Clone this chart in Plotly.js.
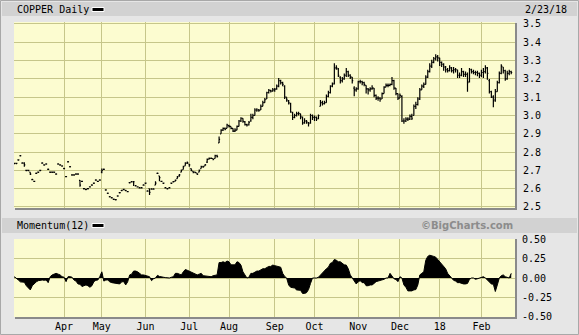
<!DOCTYPE html>
<html><head><meta charset="utf-8">
<script src="https://cdn.plot.ly/plotly-3.0.1.min.js"></script>
<style>html,body{margin:0;padding:0;background:#e6e6e6}#chart{width:579px;height:335px}</style>
</head><body><div id="chart"></div>
<script>
// ---- trading calendar (Feb 27 2017 .. Feb 23 2018) ----
const startDate = '2017-02-27';
const endDate = '2018-02-23';
const holidays = ['2017-04-14','2017-05-29','2017-07-04','2017-09-04','2017-11-23','2017-12-25','2018-01-01','2018-01-15','2018-02-19'];
const monthKeys = ['2017-04','2017-05','2017-06','2017-07','2017-08','2017-09','2017-10','2017-11','2017-12','2018-01','2018-02'];
const monthLabels = ['Apr','May','Jun','Jul','Aug','Sep','Oct','Nov','Dec','18','Feb'];
const priceTicks = [2.5,2.6,2.7,2.8,2.9,3.0,3.1,3.2,3.3,3.4,3.5];
const priceTickText = ['2.5','2.6','2.7','2.8','2.9','3.0','3.1','3.2','3.3','3.4','3.5'];
const momTicks = [-0.5,-0.25,0,0.25,0.5];
const momTickText = ['-0.50','-0.25','0.00','0.25','0.50'];

// ---- COPPER daily OHLC ----
const open = [
2.738,2.738,2.757,2.78,2.74,2.74,2.70,2.70,2.69,2.65,
2.64,2.684,2.69,2.70,2.74,2.73,2.735,2.706,2.69,2.69,
2.69,2.68,2.735,2.73,2.724,2.71,2.666,2.747,2.72,2.675,
2.675,2.68,2.68,2.645,2.64,2.60,2.596,2.60,2.61,2.62,
2.63,2.647,2.64,2.647,2.69,2.706,2.593,2.575,2.556,2.55,
2.542,2.54,2.56,2.578,2.59,2.596,2.59,2.584,2.633,2.638,
2.638,2.616,2.61,2.605,2.605,2.62,2.63,2.587,2.60,2.598,
2.598,2.62,2.684,2.67,2.64,2.63,2.605,2.60,2.605,2.63,
2.638,2.64,2.655,2.67,2.69,2.705,2.725,2.74,2.735,2.71,
2.695,2.69,2.685,2.69,2.71,2.72,2.725,2.745,2.762,2.766,
2.765,2.765,2.78,2.85,2.90,2.92,2.93,2.93,2.945,2.94,
2.93,2.915,2.92,2.94,2.97,2.985,2.965,2.95,2.948,2.97,
2.99,3.0,3.03,3.03,3.03,3.05,3.07,3.09,3.125,3.137,
3.133,3.14,3.145,3.16,3.19,3.18,3.16,3.10,3.08,3.065,
3.015,2.99,3.0,3.01,3.01,2.99,2.96,2.97,2.96,2.96,
3.0,2.99,2.99,2.985,3.05,3.07,3.065,3.07,3.105,3.125,
3.16,3.175,3.26,3.255,3.21,3.19,3.2,3.22,3.24,3.22,
3.21,3.15,3.14,3.145,3.185,3.185,3.18,3.165,3.145,3.14,
3.145,3.15,3.11,3.095,3.095,3.09,3.12,3.155,3.165,3.165,
3.17,3.19,3.15,3.12,3.095,3.105,2.97,2.97,2.98,2.98,
2.995,3.0,3.05,3.06,3.09,3.14,3.16,3.17,3.21,3.24,
3.27,3.29,3.31,3.32,3.315,3.29,3.28,3.265,3.25,3.245,
3.26,3.245,3.25,3.25,3.22,3.22,3.24,3.225,3.225,3.185,
3.25,3.24,3.235,3.235,3.23,3.22,3.235,3.24,3.26,3.19,
3.13,3.1,3.085,3.13,3.18,3.23,3.265,3.245,3.2,3.23,
3.24];
const high = [
2.742,2.742,2.761,2.784,2.744,2.745,2.704,2.704,2.69,2.654,
2.644,2.688,2.694,2.704,2.744,2.734,2.739,2.71,2.694,2.694,
2.694,2.684,2.739,2.734,2.728,2.714,2.67,2.751,2.724,2.679,
2.679,2.684,2.684,2.647,2.644,2.604,2.60,2.604,2.614,2.624,
2.634,2.651,2.644,2.651,2.71,2.71,2.597,2.579,2.56,2.554,
2.546,2.544,2.564,2.582,2.594,2.60,2.594,2.588,2.637,2.642,
2.642,2.62,2.614,2.609,2.609,2.624,2.634,2.591,2.60,2.602,
2.602,2.64,2.688,2.67,2.644,2.634,2.609,2.604,2.609,2.634,
2.642,2.65,2.67,2.68,2.705,2.725,2.745,2.748,2.735,2.71,
2.695,2.692,2.685,2.705,2.725,2.725,2.735,2.765,2.77,2.77,
2.765,2.785,2.785,2.885,2.925,2.935,2.935,2.955,2.95,2.94,
2.93,2.93,2.945,2.975,2.99,2.985,2.97,2.955,2.97,3.01,
3.01,3.04,3.04,3.035,3.06,3.08,3.095,3.13,3.145,3.14,
3.15,3.15,3.17,3.205,3.195,3.185,3.165,3.10,3.085,3.07,
3.02,3.01,3.02,3.02,3.01,2.995,2.985,2.975,2.965,3.01,
3.005,3.0,2.995,3.005,3.085,3.08,3.08,3.115,3.135,3.165,
3.18,3.285,3.275,3.26,3.215,3.21,3.23,3.26,3.245,3.225,
3.21,3.16,3.155,3.19,3.195,3.19,3.185,3.165,3.15,3.155,
3.165,3.15,3.115,3.105,3.10,3.125,3.16,3.175,3.175,3.175,
3.21,3.195,3.15,3.12,3.12,3.11,2.985,2.99,2.99,3.005,
3.01,3.06,3.075,3.10,3.15,3.17,3.18,3.22,3.25,3.285,
3.305,3.32,3.335,3.33,3.315,3.295,3.285,3.27,3.26,3.275,
3.265,3.265,3.26,3.25,3.235,3.26,3.245,3.24,3.235,3.26,
3.255,3.25,3.245,3.245,3.235,3.25,3.26,3.275,3.265,3.2,
3.135,3.11,3.145,3.19,3.24,3.28,3.265,3.25,3.245,3.25,
3.245];
const low = [
2.734,2.734,2.753,2.776,2.736,2.72,2.696,2.696,2.675,2.646,
2.636,2.68,2.686,2.696,2.736,2.726,2.731,2.702,2.686,2.686,
2.686,2.676,2.731,2.726,2.72,2.706,2.662,2.743,2.716,2.671,
2.671,2.676,2.676,2.61,2.636,2.596,2.592,2.596,2.606,2.616,
2.626,2.643,2.636,2.643,2.685,2.702,2.589,2.571,2.552,2.546,
2.538,2.536,2.556,2.574,2.586,2.592,2.586,2.58,2.629,2.634,
2.615,2.612,2.606,2.601,2.601,2.616,2.626,2.583,2.565,2.594,
2.594,2.62,2.68,2.64,2.636,2.626,2.601,2.596,2.601,2.626,
2.634,2.64,2.655,2.665,2.69,2.705,2.725,2.735,2.72,2.695,
2.685,2.684,2.675,2.69,2.71,2.715,2.725,2.74,2.76,2.762,
2.755,2.765,2.77,2.85,2.90,2.915,2.92,2.93,2.935,2.925,
2.91,2.91,2.92,2.94,2.965,2.96,2.945,2.94,2.945,2.966,
2.98,3.0,3.02,3.02,3.03,3.05,3.07,3.09,3.12,3.125,
3.13,3.13,3.14,3.155,3.17,3.16,3.09,3.075,3.06,3.015,
2.975,2.985,2.995,3.0,2.98,2.95,2.955,2.955,2.94,2.955,
2.975,2.97,2.97,2.98,3.05,3.055,3.06,3.07,3.10,3.12,
3.155,3.17,3.25,3.21,3.175,3.18,3.195,3.21,3.21,3.20,
3.175,3.105,3.13,3.14,3.175,3.165,3.16,3.12,3.115,3.13,
3.14,3.10,3.085,3.08,3.075,3.09,3.12,3.155,3.155,3.16,
3.165,3.14,3.11,3.085,3.095,2.965,2.955,2.965,2.97,2.975,
2.975,3.0,3.035,3.055,3.085,3.14,3.15,3.17,3.205,3.235,
3.26,3.285,3.30,3.295,3.27,3.265,3.245,3.235,3.235,3.24,
3.235,3.23,3.235,3.205,3.205,3.215,3.21,3.21,3.13,3.18,
3.23,3.225,3.22,3.215,3.205,3.21,3.205,3.23,3.195,3.12,
3.095,3.045,3.075,3.13,3.175,3.225,3.23,3.19,3.195,3.22,
3.225];
const close = [
2.738,2.738,2.757,2.78,2.74,2.73,2.70,2.70,2.68,2.65,
2.64,2.684,2.69,2.70,2.74,2.73,2.735,2.706,2.69,2.69,
2.69,2.68,2.735,2.73,2.724,2.71,2.666,2.747,2.72,2.675,
2.675,2.68,2.68,2.62,2.64,2.60,2.596,2.60,2.61,2.62,
2.63,2.647,2.64,2.647,2.70,2.706,2.593,2.575,2.556,2.55,
2.542,2.54,2.56,2.578,2.59,2.596,2.59,2.584,2.633,2.638,
2.638,2.616,2.61,2.605,2.605,2.62,2.63,2.587,2.58,2.598,
2.598,2.63,2.684,2.66,2.64,2.63,2.605,2.60,2.605,2.63,
2.638,2.645,2.665,2.675,2.70,2.72,2.74,2.742,2.73,2.70,
2.69,2.688,2.68,2.70,2.72,2.72,2.73,2.76,2.766,2.766,
2.76,2.78,2.775,2.87,2.92,2.93,2.925,2.948,2.94,2.93,
2.915,2.92,2.94,2.97,2.985,2.968,2.95,2.948,2.962,2.99,
3.0,3.03,3.03,3.028,3.05,3.07,3.087,3.125,3.137,3.133,
3.14,3.143,3.16,3.19,3.18,3.17,3.10,3.085,3.07,3.02,
2.99,3.0,3.01,3.01,2.995,2.96,2.97,2.965,2.955,3.0,
2.99,2.99,2.98,3.0,3.07,3.065,3.07,3.105,3.125,3.16,
3.17,3.26,3.26,3.22,3.19,3.2,3.22,3.24,3.22,3.21,
3.19,3.14,3.145,3.185,3.185,3.18,3.17,3.145,3.14,3.145,
3.15,3.11,3.095,3.095,3.09,3.12,3.155,3.165,3.165,3.17,
3.19,3.15,3.12,3.095,3.11,2.97,2.97,2.98,2.98,2.995,
2.985,3.05,3.06,3.09,3.14,3.16,3.17,3.21,3.24,3.27,
3.29,3.31,3.32,3.315,3.29,3.28,3.265,3.25,3.245,3.26,
3.245,3.25,3.25,3.22,3.22,3.24,3.225,3.225,3.18,3.25,
3.24,3.235,3.235,3.23,3.22,3.235,3.24,3.26,3.23,3.13,
3.10,3.08,3.13,3.18,3.23,3.27,3.245,3.2,3.23,3.24,
3.235];
// ---- Momentum(12) ----
const momentum = [
0.017,-0.01,-0.026,-0.05,-0.05,-0.055,-0.10,-0.13,-0.154,-0.10,
-0.07,-0.05,-0.035,-0.026,-0.026,-0.03,-0.026,-0.06,0.017,0.04,
0.045,0.06,0.05,0.04,0.017,0.01,-0.047,0.017,0.017,0.01,
-0.026,-0.04,-0.077,-0.08,-0.11,-0.10,-0.09,-0.10,-0.12,-0.10,
-0.047,-0.03,-0.026,0.02,0.08,-0.04,-0.026,-0.026,-0.05,-0.06,
-0.065,-0.07,-0.077,-0.077,-0.05,-0.047,-0.09,-0.05,0.04,0.05,
0.09,0.09,0.08,0.06,0.04,0.04,0.03,0.017,0.017,-0.034,
-0.01,0.0,0.034,0.02,0.01,0.01,0.005,0.0,0.0,0.01,
0.017,0.06,0.06,0.05,0.04,0.08,0.11,0.10,0.09,0.07,
0.06,0.05,0.04,0.05,0.06,0.03,0.026,0.017,0.017,0.017,
0.03,0.04,0.04,0.20,0.20,0.21,0.20,0.22,0.21,0.17,
0.167,0.17,0.21,0.20,0.167,0.08,0.04,0.0,0.01,0.06,
0.06,0.08,0.09,0.09,0.11,0.12,0.12,0.14,0.15,0.15,
0.167,0.16,0.15,0.145,0.14,0.06,0.02,0.0,-0.09,-0.12,
-0.13,-0.13,-0.154,-0.154,-0.16,-0.2,-0.2,-0.19,-0.15,-0.07,
0.0,0.0,0.0,0.01,0.04,0.06,0.10,0.12,0.14,0.19,
0.20,0.24,0.23,0.21,0.21,0.19,0.17,0.167,0.12,0.04,
0.0,-0.03,-0.077,-0.05,-0.034,-0.06,-0.06,-0.1,-0.1,-0.09,
-0.09,-0.07,-0.047,-0.04,-0.034,-0.03,-0.017,0.0,0.0,0.06,
0.017,-0.01,-0.02,-0.047,0.017,0.0,-0.09,-0.12,-0.167,-0.167,
-0.167,-0.154,-0.15,-0.09,0.04,0.06,0.08,0.23,0.28,0.295,
0.29,0.28,0.27,0.24,0.21,0.17,0.14,0.12,0.06,0.03,
0.0,-0.03,-0.04,-0.06,-0.06,-0.07,-0.077,-0.077,-0.07,-0.017,
0.0,0.0,-0.017,-0.01,0.0,0.0,0.017,0.0,-0.026,-0.047,
-0.077,-0.08,-0.175,-0.09,0.0,0.03,0.04,0.017,0.01,0.0,
0.06];

// ---- build calendar ----
const dates = [];
(function(){
  const d = new Date(startDate + 'T00:00:00Z'), e = new Date(endDate + 'T00:00:00Z');
  while (d <= e) {
    const s = d.toISOString().slice(0,10), wd = d.getUTCDay();
    if (wd !== 0 && wd !== 6 && holidays.indexOf(s) < 0) dates.push(s);
    d.setUTCDate(d.getUTCDate() + 1);
  }
})();
const idx = close.map((_, i) => i);
const monthTickIdx = monthKeys.map(k => dates.findIndex(s => s.startsWith(k)));

// ---- geometry helpers (pixels -> paper) ----
const W = 579, H = 335, ML = 14, MR = 64, MT = 22, MB = 18;
const PW = W - ML - MR, PH = H - MT - MB;
const px = x => (x - ML) / PW;
const py = y => (H - MB - y) / PH;

const mono = 'DejaVu Sans Mono, monospace';
const grid = '#c6c68a';

const traces = [
  {type:'ohlc', x: idx, open: open, high: high, low: low, close: close,
   xaxis:'x', yaxis:'y', tickwidth: 0.5, hoverinfo:'skip',
   increasing:{line:{color:'#000', width:1.2}}, decreasing:{line:{color:'#000', width:1.2}}},
  {type:'scatter', mode:'lines', x: idx, y: momentum, xaxis:'x2', yaxis:'y2',
   fill:'tozeroy', fillcolor:'#000', line:{color:'#000', width:1}, hoverinfo:'skip'}
];

const xr = [-0.2, dates.length + 0.9];
const layout = {
  width: W, height: H, margin:{l:ML, r:MR, t:MT, b:MB},
  paper_bgcolor:'#e6e6e6', plot_bgcolor:'#fcfcd0', showlegend:false,
  font:{family: mono, size:10, color:'#000'},
  xaxis:{domain:[0,1], anchor:'y', range: xr, tickvals: monthTickIdx, showticklabels:false,
         showgrid:true, gridcolor: grid, gridwidth:1, zeroline:false, ticks:'', showline:false,
         rangeslider:{visible:false}, fixedrange:true},
  yaxis:{domain:[py(208), 1], anchor:'x', side:'right', range:[2.4945, 3.5109],
         tickvals: priceTicks, ticktext: priceTickText, showgrid:true, gridcolor: grid, gridwidth:1,
         zeroline:false, ticks:'', ticklabelstandoff:7, tickfont:{family: mono, size:10, color:'#000'}},
  xaxis2:{domain:[0,1], anchor:'y2', range: xr, tickvals: monthTickIdx, ticktext: monthLabels,
          showgrid:true, gridcolor: grid, gridwidth:1, zeroline:false, ticks:'', showline:false,
          ticklabelstandoff:2, tickfont:{family: mono, size:10, color:'#000'}},
  yaxis2:{domain:[0, py(239)], anchor:'x2', side:'right', range:[-0.505, 0.505],
          tickvals: momTicks, ticktext: momTickText, showgrid:true, gridcolor: grid, gridwidth:1,
          zeroline:false, ticks:'', ticklabelstandoff:6, tickfont:{family: mono, size:10, color:'#000'}},
  shapes:[
    {type:'rect', xref:'paper', yref:'paper', x0:px(2), x1:px(577), y0:py(16), y1:py(2), fillcolor:'#d2d2d2', line:{width:0}, layer:'below'},
    {type:'rect', xref:'paper', yref:'paper', x0:px(2), x1:px(577), y0:py(233), y1:py(218), fillcolor:'#d2d2d2', line:{width:0}, layer:'below'},
    {type:'rect', xref:'paper', yref:'paper', x0:px(92), x1:px(104), y0:py(11.5), y1:py(7.5), fillcolor:'#000', line:{color:'#fff', width:1}},
    {type:'rect', xref:'paper', yref:'paper', x0:px(92), x1:px(104), y0:py(227.5), y1:py(223.5), fillcolor:'#000', line:{color:'#fff', width:1}},
    {type:'line', xref:'paper', yref:'paper', x0:px(516), x1:px(516), y0:py(209), y1:py(23), line:{color:'#8a8a8a', width:2}},
    {type:'line', xref:'paper', yref:'paper', x0:px(15), x1:px(517), y0:py(209), y1:py(209), line:{color:'#8a8a8a', width:2}},
    {type:'line', xref:'paper', yref:'paper', x0:px(516), x1:px(516), y0:py(318), y1:py(239), line:{color:'#8a8a8a', width:2}},
    {type:'line', xref:'paper', yref:'paper', x0:px(15), x1:px(517), y0:py(318), y1:py(318), line:{color:'#8a8a8a', width:2}},
    {type:'rect', xref:'paper', yref:'paper', x0:px(0.5), x1:px(578.5), y0:py(334.5), y1:py(0.5), line:{color:'#a8a8a8', width:1}}
  ],
  annotations:[
    {xref:'paper', yref:'paper', x:px(15), y:py(9.5), xanchor:'left', yanchor:'middle', showarrow:false, text:'COPPER Daily', font:{family: mono, size:10, color:'#000'}},
    {xref:'paper', yref:'paper', x:px(523), y:py(9.5), xanchor:'left', yanchor:'middle', showarrow:false, text:'2/23/18', font:{family: mono, size:10, color:'#000'}},
    {xref:'paper', yref:'paper', x:px(15), y:py(225.5), xanchor:'left', yanchor:'middle', showarrow:false, text:'Momentum(12)', font:{family: mono, size:10, color:'#000'}},
    {xref:'paper', yref:'paper', x:px(515), y:py(225.5), xanchor:'right', yanchor:'middle', showarrow:false, text:'<b>©BigCharts.com</b>', font:{family:'DejaVu Sans, sans-serif', size:10, color:'#8c8c8c'}}
  ]
};
Plotly.newPlot('chart', traces, layout, {displayModeBar:false, staticPlot:true});
</script></body></html>
